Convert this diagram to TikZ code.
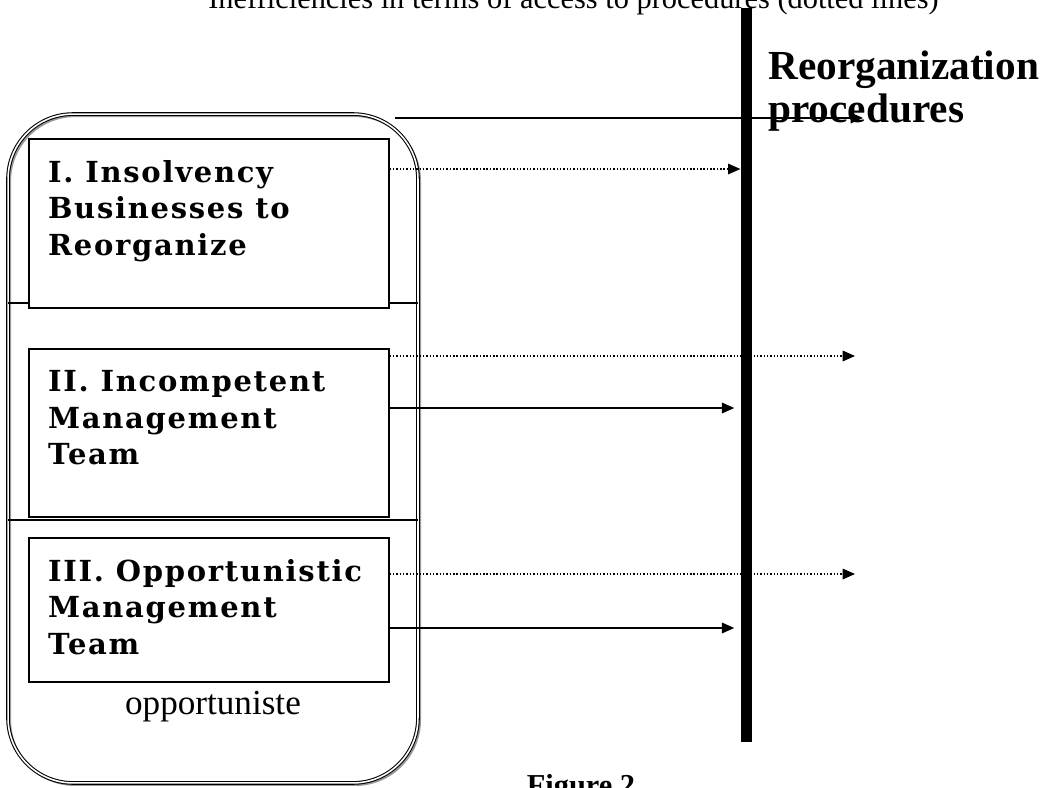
\documentclass[tikz,border=0pt]{standalone}
\usepackage{fontspec}
\setmainfont{Liberation Serif}
\newfontfamily\boxfont{DejaVu Serif}[LetterSpace=6]
\usetikzlibrary{positioning,arrows.meta}

\newcommand{\grouptext}[2]{%
  \parbox[c][#1][t]{6.44cm}{\boxfont\bfseries\fontsize{16.5}{21}\selectfont
  \raggedright\vspace{0.42cm}#2}}

\begin{document}
\begin{tikzpicture}[
  x=0.02cm, y=-0.02cm,
  >={Triangle[length=7pt,width=6pt]},
  team/.style={draw=black, double=white, double distance=0.9pt, line width=0.6pt,
               rounded corners=1.3cm, minimum width=8.2cm, minimum height=13.38cm,
               inner sep=0},
  shade/.style={draw=black!40, line width=1.2pt, rounded corners=1.3cm,
                minimum width=8.2cm, minimum height=13.38cm, inner sep=0},
  group/.style={draw=black, fill=white, line width=0.8pt, inner xsep=0.38cm,
                inner ysep=0, anchor=center},
  sep/.style={line width=1pt},
  bar/.style={fill=black, minimum width=0.23cm, minimum height=14.68cm, inner sep=0},
  arr/.style={->, line width=0.9pt},
  dots/.style={->, line width=0.8pt, dash pattern=on 0.8pt off 1.1pt},
]
% frame and clip
\path[use as bounding box, clip] (0,0) rectangle (1049,788);

% left column
\node[shade] (teamshade) at (215,450.5) {};
\node[team] (team) at (213,448.5) {};
\draw[sep] (team.west |- 0,303) -- (team.east |- 0,303);
\draw[sep] (team.west |- 0,520) -- (team.east |- 0,520);
\node[anchor=base, font=\fontsize{20}{24}\selectfont] (oppo) at (213,714) {opportuniste};

\node[group] (insolv) at (209,223.5) {\grouptext{3.38cm}{I. Insolvency Businesses to Reorganize}};
\node[group] (incomp) at (209,433) {\grouptext{3.36cm}{II. Incompetent Management Team}};
\node[group] (opport) at (209,610) {\grouptext{2.88cm}{III. Opportunistic Management Team}};

% procedures
\node[bar] (bar) at (746.5,375) {};
\node[anchor=base west, inner sep=0, font=\fontsize{17.3}{20}\selectfont] (title) at (208,8)
  {Inefficiencies in terms of access to procedures (dotted lines)};
\node[anchor=north west, inner sep=0, align=left,
      font=\bfseries\fontsize{23.5}{25}\selectfont] (reorg) at (768,50)
  {Reorganization\\procedures};
\node[anchor=north, inner sep=0, font=\bfseries\fontsize{17.3}{20}\selectfont] (fig) at (581,774) {Figure 2};

% connectors
\coordinate (topin) at (395,118);
\coordinate (topout) at (863,118);
\coordinate (out2) at (855,356);
\coordinate (out3) at (855,574);
\draw[arr] (topin) -- (topout);
\draw[dots] (insolv.east |- 0,169) -- (bar.west |- 0,169);
\draw[dots] (incomp.east |- out2) -- (out2);
\draw[arr, shorten >=3.5pt] (incomp.east |- 0,408) -- (bar.west |- 0,408);
\draw[dots] (opport.east |- out3) -- (out3);
\draw[arr, shorten >=3.5pt] (opport.east |- 0,628) -- (bar.west |- 0,628);
\end{tikzpicture}
\end{document}
